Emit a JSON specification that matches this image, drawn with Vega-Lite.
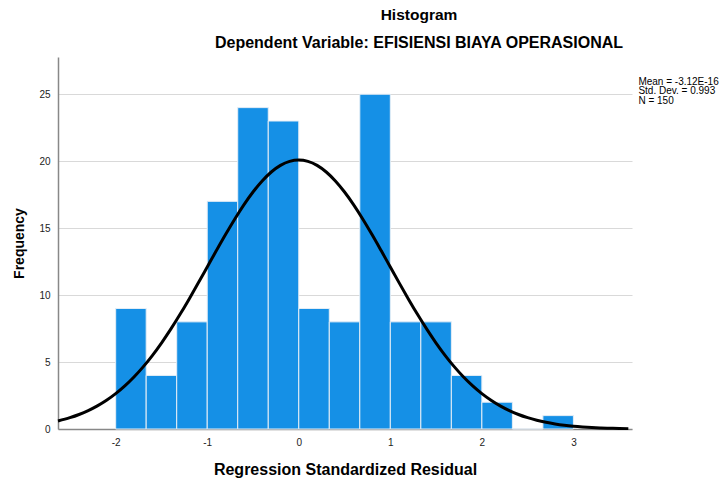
{
  "$schema": "https://vega.github.io/schema/vega-lite/v6.json",
  "width": 574,
  "height": 372,
  "autosize": {"type": "none"},
  "padding": {"left": 58, "top": 57, "right": 94, "bottom": 55},
  "background": "white",
  "config": {
    "view": {"stroke": null},
    "font": "Liberation Sans",
    "axis": {"labelFont": "Liberation Sans", "titleFont": "Liberation Sans"},
    "locale": {"number": {"decimal": ".", "thousands": ",", "grouping": [3], "currency": ["$", ""], "minus": "-"}}
  },
  "title": {
    "text": "Histogram",
    "subtitle": "Dependent Variable: EFISIENSI BIAYA OPERASIONAL",
    "anchor": "middle",
    "dx": 74,
    "fontSize": 15.5,
    "fontWeight": "bold",
    "color": "black",
    "subtitleFontSize": 16,
    "subtitleFontWeight": "bold",
    "subtitleColor": "black",
    "subtitlePadding": 12,
    "offset": 6,
    "font": "Liberation Sans",
    "subtitleFont": "Liberation Sans"
  },
  "layer": [
    {
      "data": {"values": [
        {"bin_start": -2.0, "bin_end": -1.6667, "count": 9},
        {"bin_start": -1.6667, "bin_end": -1.3333, "count": 4},
        {"bin_start": -1.3333, "bin_end": -1.0, "count": 8},
        {"bin_start": -1.0, "bin_end": -0.6667, "count": 17},
        {"bin_start": -0.6667, "bin_end": -0.3333, "count": 24},
        {"bin_start": -0.3333, "bin_end": 0.0, "count": 23},
        {"bin_start": 0.0, "bin_end": 0.3333, "count": 9},
        {"bin_start": 0.3333, "bin_end": 0.6667, "count": 8},
        {"bin_start": 0.6667, "bin_end": 1.0, "count": 25},
        {"bin_start": 1.0, "bin_end": 1.3333, "count": 8},
        {"bin_start": 1.3333, "bin_end": 1.6667, "count": 8},
        {"bin_start": 1.6667, "bin_end": 2.0, "count": 4},
        {"bin_start": 2.0, "bin_end": 2.3333, "count": 2},
        {"bin_start": 2.3333, "bin_end": 2.6667, "count": 0},
        {"bin_start": 2.6667, "bin_end": 3.0, "count": 1}
      ]},
      "mark": {"type": "rect", "color": "#1590E6", "stroke": "#E6EEF6", "strokeWidth": 1},
      "encoding": {
        "x": {
          "field": "bin_start", "type": "quantitative",
          "scale": {"domain": [-2.63, 3.64], "nice": false, "zero": false},
          "axis": {
            "title": "Regression Standardized Residual",
            "titleFontSize": 16, "titleFontWeight": "bold", "titleColor": "black", "titlePadding": 14,
            "values": [-2, -1, 0, 1, 2, 3], "format": "d",
            "labelFontSize": 10, "labelColor": "#222222", "labelPadding": 8,
            "ticks": false, "grid": false,
            "domainColor": "#888888", "domainWidth": 1.5
          }
        },
        "x2": {"field": "bin_end"},
        "y": {
          "field": "count", "type": "quantitative",
          "scale": {"domain": [0, 27.78], "nice": false},
          "axis": {
            "title": "Frequency",
            "titleFontSize": 14, "titleFontWeight": "bold", "titleColor": "black", "titlePadding": 12,
            "values": [0, 5, 10, 15, 20, 25],
            "labelFontSize": 10, "labelColor": "#222222", "labelPadding": 8,
            "ticks": false,
            "grid": true, "gridColor": "#D9D9D9", "gridWidth": 1,
            "domainColor": "#888888", "domainWidth": 1.5
          }
        },
        "y2": {"datum": 0}
      }
    },
    {
      "data": {"values": [
        {"z": -2.63, "freq": 0.603},
        {"z": -2.5, "freq": 0.845},
        {"z": -2.4, "freq": 1.083},
        {"z": -2.3, "freq": 1.374},
        {"z": -2.2, "freq": 1.726},
        {"z": -2.1, "freq": 2.147},
        {"z": -2.0, "freq": 2.643},
        {"z": -1.9, "freq": 3.221},
        {"z": -1.8, "freq": 3.885},
        {"z": -1.7, "freq": 4.640},
        {"z": -1.6, "freq": 5.485},
        {"z": -1.5, "freq": 6.419},
        {"z": -1.4, "freq": 7.436},
        {"z": -1.3, "freq": 8.527},
        {"z": -1.2, "freq": 9.679},
        {"z": -1.1, "freq": 10.876},
        {"z": -1.0, "freq": 12.098},
        {"z": -0.9, "freq": 13.322},
        {"z": -0.8, "freq": 14.521},
        {"z": -0.7, "freq": 15.668},
        {"z": -0.6, "freq": 16.736},
        {"z": -0.5, "freq": 17.696},
        {"z": -0.4, "freq": 18.523},
        {"z": -0.3, "freq": 19.192},
        {"z": -0.2, "freq": 19.685},
        {"z": -0.1, "freq": 19.986},
        {"z": 0.0, "freq": 20.088},
        {"z": 0.1, "freq": 19.986},
        {"z": 0.2, "freq": 19.685},
        {"z": 0.3, "freq": 19.192},
        {"z": 0.4, "freq": 18.523},
        {"z": 0.5, "freq": 17.696},
        {"z": 0.6, "freq": 16.736},
        {"z": 0.7, "freq": 15.668},
        {"z": 0.8, "freq": 14.521},
        {"z": 0.9, "freq": 13.322},
        {"z": 1.0, "freq": 12.098},
        {"z": 1.1, "freq": 10.876},
        {"z": 1.2, "freq": 9.679},
        {"z": 1.3, "freq": 8.527},
        {"z": 1.4, "freq": 7.436},
        {"z": 1.5, "freq": 6.419},
        {"z": 1.6, "freq": 5.485},
        {"z": 1.7, "freq": 4.640},
        {"z": 1.8, "freq": 3.885},
        {"z": 1.9, "freq": 3.221},
        {"z": 2.0, "freq": 2.643},
        {"z": 2.1, "freq": 2.147},
        {"z": 2.2, "freq": 1.726},
        {"z": 2.3, "freq": 1.374},
        {"z": 2.4, "freq": 1.083},
        {"z": 2.5, "freq": 0.845},
        {"z": 2.6, "freq": 0.652},
        {"z": 2.7, "freq": 0.498},
        {"z": 2.8, "freq": 0.377},
        {"z": 2.9, "freq": 0.282},
        {"z": 3.0, "freq": 0.209},
        {"z": 3.1, "freq": 0.154},
        {"z": 3.2, "freq": 0.112},
        {"z": 3.3, "freq": 0.080},
        {"z": 3.4, "freq": 0.057},
        {"z": 3.5, "freq": 0.040},
        {"z": 3.6, "freq": 0.028}
      ]},
      "mark": {"type": "line", "color": "black", "strokeWidth": 3, "interpolate": "monotone"},
      "encoding": {
        "x": {"field": "z", "type": "quantitative"},
        "y": {"field": "freq", "type": "quantitative"}
      }
    },
    {
      "data": {"values": [
        {"stats": ["Mean = -3.12E-16", "Std. Dev. = 0.993", "N = 150"]}
      ]},
      "mark": {"type": "text", "align": "left", "baseline": "top", "fontSize": 10, "lineHeight": 9.5, "color": "black", "font": "Liberation Sans"},
      "encoding": {
        "x": {"datum": 3.71},
        "y": {"datum": 26.3},
        "text": {"field": "stats"}
      }
    }
  ]
}
